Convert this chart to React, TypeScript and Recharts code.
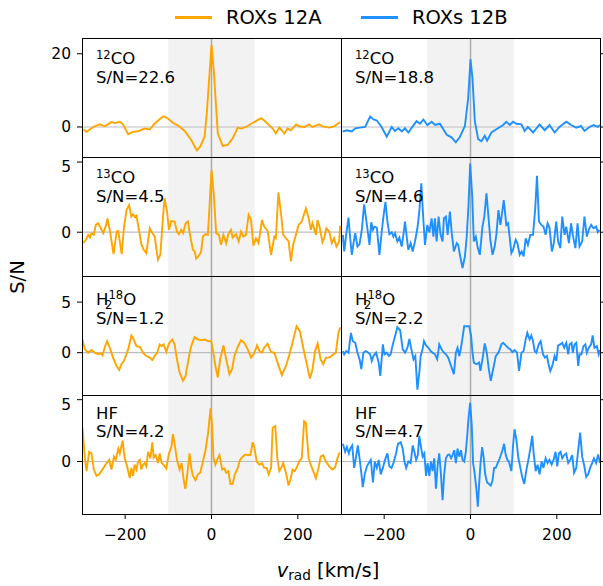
import React from 'react';
import { LineChart, Line, XAxis, YAxis, ReferenceArea, ReferenceLine } from 'recharts';

type Pt = [number, number];

// [velocity km/s, S/N]
const co12A: Pt[] = [[-297,-0.71],[-289.5,-1.33],[-274,0],[-259,0.71],[-247,0.18],[-232,1.33],[-224,1.07],[-212.5,1.42],[-205,0.71],[-193,-1.96],[-182,-1.33],[-170,-1.16],[-155,-0.44],[-143,-0.71],[-132,0.89],[-112,2.93],[-103,2.49],[-89,1.07],[-78,0.44],[-62,-1.07],[-47,-3.56],[-34,-6.4],[-26,-5.3],[-16,-2.67],[-11,3.56],[0,22.4],[5.4,15.1],[14.6,-1.78],[26,-5.15],[38,-4.9],[49,-3.1],[61,-0.18],[68.5,-0.44],[80,0],[92,0.89],[115,2.4],[122,1.78],[134,0.44],[142,-0.44],[149,-1.78],[157,-0.18],[169,-1.78],[176,-0.44],[184,-0.89],[196,0.71],[203,0.18],[215,0],[226,0.71],[234,0],[249.5,0.71],[257,0.18],[272.6,-0.18],[284,0.18],[298,1.33]];
const co12B: Pt[] = [[-296,-1.24],[-286,-0.89],[-275,-1.24],[-267,-0.36],[-256,-0.18],[-244,0],[-232.5,2.84],[-225,2.04],[-217,1.78],[-206,0],[-194,-2.67],[-182.5,0],[-175,-1.07],[-167,-0.36],[-159,-1.24],[-152,-0.36],[-144,-1.51],[-136,-0.18],[-125,1.6],[-117,0.89],[-109,2.04],[-100,0.53],[-90,1.42],[-82,0.53],[-71,0.89],[-63,-0.62],[-55,-2.13],[-44,-2.84],[-34,-4.18],[-25,-2.84],[-13,0.27],[-5.4,7.82],[0,18.5],[4.6,13.2],[10,1.6],[17.7,-3.3],[25.4,-3.9],[33,-2.4],[38.5,-3.73],[48.5,-1.51],[60,-0.62],[75.5,0.53],[83,1.42],[91,0.53],[98.6,1.42],[106,0.89],[118,0.71],[125.5,-1.07],[133,0],[145,-1.51],[160,0.71],[172,-0.89],[183,0.53],[195,-1.51],[206,0],[222,1.42],[233,0.53],[245,-0.18],[256,0.27],[264,-1.07],[275.7,0],[285,0.53],[295,0],[300,0.53]];
const co13A: Pt[] = [[-297.2,-0.78],[-291,-0.54],[-285.6,-0.19],[-281.8,-0.38],[-278,-0.07],[-272.6,-0.19],[-268,0.52],[-262.6,0.64],[-257,0.33],[-251,-0.07],[-244,0.52],[-241,0.99],[-235,0.05],[-227,-1.56],[-219.6,0.05],[-216,0.09],[-208,-1.56],[-203,0.28],[-197,1.58],[-191,1.94],[-185.6,1.11],[-181.7,1.28],[-178,1.11],[-174,1.18],[-168,0.17],[-162.5,-0.85],[-157,-1.25],[-151,-1.49],[-143,0.28],[-139,0.05],[-131.7,-0.31],[-124,-1.96],[-118.6,-1.61],[-112,1.23],[-108.6,2.41],[-103,1.47],[-98.6,0.17],[-93,0.8],[-85.5,0.76],[-80,0.05],[-75.5,-0.14],[-70,0.17],[-66,-0.07],[-60,0.64],[-54.7,0.76],[-49,-0.31],[-43,-1.25],[-39,-1.37],[-35.4,-1.89],[-27.7,-1.61],[-24,-1.37],[-20,-0.31],[-13.9,-0.14],[-8.5,-0.19],[-4.6,1.82],[0,4.42],[5.4,2.65],[10.8,-0.07],[17,-0.19],[22,-0.9],[27.7,-0.19],[34,-0.78],[39,-0.14],[45,0.17],[49,-0.38],[57,-0.14],[63,-0.66],[68.5,0.05],[74,-0.31],[80,-0.19],[86,1.23],[91.6,0.87],[97,-0.95],[103,-0.43],[109,-0.78],[117,0.87],[122,0.4],[130,0.09],[138,-1.61],[145.5,-0.31],[149,-0.43],[155,2.84],[161,1.35],[166,-0.19],[172.5,-0.43],[178.6,-0.66],[184,-2.08],[189,-0.9],[195.6,-0.19],[201.7,0.52],[209,0.76],[218.7,1.7],[225,0.99],[230,0.17],[234,0.64],[242,-0.19],[245.6,0.87],[251,0.28],[257,-0.71],[261,-0.43],[266,0.28],[272.6,0.05],[278.7,-0.78],[284,-0.43],[289.5,-1.02],[295.7,-0.66],[298,0.47]];
const co13B: Pt[] = [[-295.7,-0.19],[-292.6,-1.37],[-288,-0.19],[-282.6,1.04],[-278.7,-0.43],[-274.9,-1.61],[-271,-0.78],[-267,-0.07],[-261.8,-1.02],[-257,-0.85],[-251.8,0.17],[-246.4,1.99],[-240,0.52],[-234,-0.9],[-230,0.71],[-226,0.17],[-222.5,0.4],[-217,0.33],[-211,-1.61],[-205.6,0.05],[-201.7,1.11],[-197,2.17],[-192.5,0.76],[-188,-0.14],[-182.5,0],[-178.6,-0.31],[-174.8,-0.07],[-169.4,-0.66],[-164.8,-0.38],[-159.4,-1.02],[-155.5,-0.19],[-151.7,0.76],[-147.8,-0.31],[-144,-1.25],[-138.6,-0.78],[-134,-1.37],[-128.6,-0.66],[-123,0.28],[-118.6,1.47],[-114,3.48],[-109,0.76],[-105.5,-0.9],[-100,0.52],[-95.5,0],[-90,0.99],[-86,-0.31],[-82.4,0.99],[-78.5,-0.66],[-74,1.11],[-69.3,-0.19],[-64.7,-0.66],[-61.6,0.99],[-57,1.11],[-53,-0.19],[-47.7,1.47],[-43,-0.19],[-38.5,-1.37],[-32,-0.78],[-28.5,-0.9],[-24.6,-1.61],[-18.5,-2.55],[-13,-1.73],[-9,-0.43],[-4.6,1.94],[-0.8,4.89],[3.9,2.65],[7.7,-0.66],[12.3,-0.31],[17,-1.13],[21.6,-1.61],[27.7,0.4],[32,1.11],[37,2.77],[41.6,1.11],[46,-0.54],[51,-1.61],[56,-1.02],[60,-0.14],[64.7,1.58],[69.3,0.52],[72,1.11],[77,2.29],[83,0.52],[87,0.64],[91,-0.43],[94.7,-1.49],[98.6,-1.25],[104.7,-0.54],[108.6,-0.78],[114,-1.61],[118.6,-1.37],[123,-1.73],[127.8,-0.43],[133,-0.9],[138.6,-0.19],[144.8,-0.19],[150,1.7],[154,4.02],[158.6,0.76],[164,0.52],[169,0.4],[174,-0.19],[178.6,0.64],[183,0.33],[188.6,-1.37],[193,-0.78],[198.6,0.76],[203,-0.66],[208,-1.13],[212.5,1.11],[218,-0.19],[221.8,0.4],[228,-0.78],[233,0.64],[237,-0.19],[243,-1.13],[248,0.64],[252.6,-1.02],[258.7,-0.66],[264,1.11],[269.5,-0.31],[274,0.17],[279.5,0.52],[285,0.28],[291,0.4],[295,0],[298.8,0.17]];
const h2oA: Pt[] = [[-298.8,1.31],[-293.4,0.33],[-285.7,0],[-278,0.26],[-270,0],[-262.6,-0.16],[-257,-0.07],[-252.5,-0.26],[-247,0.59],[-241.8,1.14],[-235.6,0.49],[-228,-0.49],[-220,-1.31],[-214,-1.7],[-208.7,-1.14],[-203,-0.82],[-193,0.33],[-185.6,1.7],[-180,1.31],[-174,0.65],[-166,0.59],[-158.6,0],[-151,-0.33],[-143,-0.49],[-137,-0.72],[-131.7,-0.33],[-126,0],[-120,0.82],[-116,0.65],[-111,0.82],[-104.7,0.07],[-98.6,0.91],[-91,1.31],[-85.5,0.82],[-80,-0.65],[-74,-1.96],[-66,-2.78],[-60,-2.29],[-52,-0.33],[-47,0.65],[-39,1.54],[-31.6,1.31],[-24,1.24],[-16,1.31],[-8.5,1.14],[-0.8,1.14],[3,0.33],[9,-1.31],[14.6,-2.45],[20,-0.65],[27.7,0.72],[34,-0.65],[41.6,-2.12],[47.7,-1.63],[53,-0.33],[61,0.59],[68.5,1.24],[76,0.98],[84,0.33],[91.6,-0.49],[99,-0.07],[105.5,0.72],[111,0.16],[117,0],[122,0.49],[130,0.88],[138,0.07],[145.5,0],[153,-0.98],[163,-2.22],[172.5,-1.31],[181.7,0],[189.5,1.31],[197,2.61],[204.8,2.12],[212.5,0.49],[220,-0.98],[228,-2.55],[234,-1.63],[240,0.16],[246,0.91],[252.6,-0.65],[258.7,-1.14],[265,-0.49],[271,-0.49],[276,-0.39],[282,-0.16],[288,0],[294,1.96],[298,2.52]];
const h2oB: Pt[] = [[-295.7,0.16],[-292.6,-0.16],[-288,0.16],[-282.6,0],[-277,1.96],[-272.6,1.14],[-267,0.98],[-261.8,0],[-257,-0.65],[-253,-1.63],[-248,0],[-243,0.16],[-238.7,0.07],[-232.5,-0.16],[-228.7,-0.82],[-224.8,-0.33],[-218.7,0],[-213,-0.91],[-209,-2.29],[-203,0.82],[-199.4,-0.16],[-194,0],[-189,-0.33],[-185,-0.16],[-180,0.82],[-174.8,1.63],[-169.4,2.52],[-163,2.22],[-157,0.33],[-151.7,0],[-146,0.49],[-141.6,1.37],[-137.8,0.49],[-132,-0.65],[-127.8,-0.33],[-123,-3.66],[-118.6,-1.96],[-115.5,-0.33],[-111,0.33],[-107.8,1.14],[-103,0.72],[-97.6,0.49],[-92.4,0.16],[-87.8,0],[-82.4,-0.16],[-77,-0.65],[-72.4,0.82],[-67,0.33],[-61.6,0],[-57,-0.16],[-51.6,-0.49],[-47.7,-0.98],[-42.4,-1.63],[-38.5,-2.12],[-33.9,0],[-30,0.49],[-26,-0.33],[-22,0.49],[-18.5,1.47],[-14.6,2.61],[-3,2.61],[1.5,1.63],[4.6,0],[7.7,-0.98],[13.9,-1.14],[20,-0.98],[23,-1.8],[27.7,-0.65],[33,0.91],[37.7,0],[42.4,-1.63],[47,-2.78],[50.8,-1.96],[54,-1.31],[58.5,-0.33],[64.7,0],[71.6,0.82],[75.5,0.98],[81.6,0.72],[87,0.49],[92.4,0.33],[97,0.07],[102,0.26],[107.8,0],[112.5,-1.8],[118,0],[123,0.16],[127.8,1.31],[131.7,1.96],[137,1.31],[141,1.7],[144.8,1.14],[148.6,0.16],[152.5,0],[158,0.82],[162.5,1.14],[168,-0.16],[172.5,-0.49],[177,-0.33],[181.7,-1.31],[184.8,-1.8],[189.5,-1.31],[194.8,-0.33],[198.7,-0.82],[203,0.72],[208,0.82],[212.5,0.98],[217,0.49],[221.8,0.98],[226.4,-0.16],[229.5,0.82],[234,0.98],[237,0],[241,0.82],[245,0.98],[249.5,-1.31],[252.6,-0.16],[257,-0.16],[261.8,0.65],[266,0.82],[269.5,0],[274,0.49],[279.5,0.82],[283,1.7],[287,0.49],[292.6,0.65],[297,-0.16],[300,0.26]];
const hfA: Pt[] = [[-298.8,2.73],[-293.4,0.26],[-289.5,-0.78],[-283.4,0.78],[-278,0.65],[-272.6,-0.65],[-266.4,-1.17],[-260,-1.04],[-255,-0.78],[-249.5,-0.47],[-243,-0.13],[-237,0.13],[-231.8,-0.65],[-226,0.39],[-221.8,0.13],[-216,1.04],[-212.5,0.65],[-206,1.69],[-201,0.26],[-195.6,-0.39],[-189.4,-1.35],[-185.6,-0.52],[-181.7,-1.17],[-178,-0.26],[-174,-0.65],[-170,0],[-166,0.13],[-162.5,-0.65],[-158.6,-0.26],[-154.8,-0.13],[-151,-0.39],[-147,0.78],[-141.7,0.26],[-137,1.56],[-134,0.31],[-129.4,0.52],[-124,-0.13],[-120,0.65],[-115.5,-0.13],[-111,-0.26],[-104.7,-0.57],[-98.6,0.65],[-93,1.17],[-89.3,2.21],[-85.5,1.43],[-80,0.13],[-74,-0.65],[-69.3,-0.13],[-64.7,-1.43],[-60.8,-2.21],[-57,-1.3],[-50.8,0.65],[-47,-0.52],[-43,-1.17],[-37,-1.51],[-31.6,-1.04],[-26,-0.91],[-20,0],[-13.9,0.91],[-7.7,2.34],[-2.3,4.3],[1.5,2.86],[4.6,0.26],[9,-0.26],[14.6,0.26],[18.5,0.52],[24.6,-0.65],[30,-0.57],[34,-0.91],[39,-0.78],[44,-1.82],[49,-1.82],[54,-1.04],[61,-0.52],[66,0.13],[72,0.39],[78.5,0.57],[84,0.52],[90,0.52],[95.5,1.56],[99,1.17],[104.7,0],[111,-0.26],[117,-0.13],[122,-0.52],[127.8,-0.52],[132.4,-1.04],[138,-0.52],[141.7,2.73],[147.8,2.86],[152.5,0.26],[157,-0.78],[161.7,-0.52],[166,-0.13],[172.5,-0.91],[178.6,-1.95],[183,-1.43],[188,-0.65],[193,-0.78],[197,-0.52],[203,0],[209,0.26],[214.6,3.26],[218.7,3.13],[225,0.26],[230,-0.26],[235.6,-0.78],[241.8,-1.35],[248,-0.52],[253,0.39],[258.7,0.52],[265,0],[272.6,-0.39],[280,-0.65],[286,-0.52],[291.8,0.26],[297,0.73]];
const hfB: Pt[] = [[-295.7,1.43],[-290.3,0.78],[-286.4,1.17],[-281.8,0.65],[-278.7,1.04],[-274,1.3],[-269.5,-0.52],[-265,0.39],[-261,1.3],[-257,0.26],[-253,-0.91],[-249.5,-2.08],[-245,-1.04],[-240,-0.39],[-235.6,-0.13],[-231,0.13],[-226,-1.69],[-221.8,0],[-217,-0.52],[-212.5,0.13],[-208,-1.04],[-203,-0.52],[-198,0.13],[-192.5,0.65],[-188,-0.39],[-183,-0.52],[-178.6,-0.13],[-172.5,0.65],[-168,1.43],[-161.7,1.56],[-157,1.04],[-153,0],[-149,-0.52],[-144,0],[-138.6,-0.13],[-134,1.3],[-130,0.78],[-126,0.13],[-122,0.52],[-118.6,2.08],[-114.6,1.17],[-110.9,0.39],[-107,0.65],[-103,-1.17],[-99.3,-0.13],[-95.5,-1.17],[-91.6,0],[-87.8,-0.78],[-84,0.26],[-80,-2.21],[-76,-0.26],[-72.4,0.65],[-68.5,-1.04],[-64.7,-3.13],[-61,-1.04],[-57,0.26],[-53,0.52],[-49,0.57],[-45,0.26],[-41.6,0.52],[-37.7,0.91],[-33.9,-0.13],[-30,1.04],[-26,0.39],[-22,0.91],[-18.5,0.13],[-14.6,0],[-10.8,0.78],[-7,2.34],[-4.6,3.52],[-0.8,4.74],[3,2.86],[6,-0.13],[9,-0.78],[13.9,-2.34],[17,-3.65],[20,-1.82],[23,-0.26],[27,1.17],[30.8,0.26],[34,-1.04],[38.5,-1.69],[43,-1.82],[47,-1.95],[50.8,-1.56],[54.7,-0.52],[58.5,-0.52],[63,-0.13],[67.8,0.26],[74,0.91],[77.8,1.43],[81.6,0.52],[85.5,0.13],[89,0],[94.7,-0.78],[98.6,1.3],[102,2.6],[106,1.82],[111,0.26],[115.5,-0.52],[120,-1.3],[124.6,-1.82],[129,-0.78],[134,0.13],[138.6,1.04],[143,2.08],[146,0.78],[151,-0.78],[155.5,-0.26],[160,-1.04],[164.8,0],[169,-0.52],[174,0.26],[178.6,-0.13],[183,0.13],[188,-0.26],[192.5,0.13],[197,0.78],[201,-0.39],[204.8,0.65],[208.7,0.78],[212.5,0.26],[217,0.52],[221.8,0.65],[226.4,-0.13],[231,0.13],[235.6,0.52],[240,-0.91],[245,-0.52],[249.5,0.91],[254,2.34],[258.7,0.39],[263,-0.26],[268,-1.25],[272.6,-1.04],[277,-0.52],[281.8,-0.13],[286,0.26],[291,-0.13],[295.7,0.57],[300,-0.13]];

const sources = ['ROXs 12A', 'ROXs 12B'];
const sourceColors = ['#FFA500', '#1E90FF'];
const snValuesA = ['22.6', '4.5', '1.2', '4.2'];
const snValuesB = ['18.8', '4.6', '2.2', '4.7'];
const velocityTicks = [-200, 0, 200];
const rowTicks = [[0, 20], [0, 5], [0, 5], [0, 5]];
const rowDomains: [number, number][] = [[-8.2, 24.3], [-3.12, 5.36], [-4.18, 7.58], [-4.25, 5.38]];
const seriesA = [co12A, co13A, h2oA, hfA];
const seriesB = [co12B, co13B, h2oB, hfB];

const FONT = "'DejaVu Sans', 'Liberation Sans', sans-serif";
const COL_X = [82, 341];
const PW = 259;
const TOP = 38;
const RH = 119;
const YW = 50;
const XH = 40;

const toRows = (pts: Pt[]) => pts.map(([v, sn]) => ({ v, sn }));

function Species({ row }: { row: number }) {
  const sup = (s: string) => (
    <span style={{ fontSize: '0.7em', position: 'relative', top: '-0.5em' }}>{s}</span>
  );
  if (row === 0) return <span>{sup('12')}CO</span>;
  if (row === 1) return <span>{sup('13')}CO</span>;
  if (row === 2)
    return (
      <span style={{ position: 'relative' }}>
        H{sup('18')}
        <span style={{ position: 'absolute', fontSize: '0.7em', left: '0.78em', top: '0.55em' }}>2</span>O
      </span>
    );
  return <span>HF</span>;
}

const textOffsets = [12.3, 12.3, 14.8, 9.8];

function Panel({ col, row }: { col: number; row: number }) {
  const pts = col === 0 ? seriesA[row] : seriesB[row];
  const data = toRows(pts);
  const bottom = row === 3;
  const left = col === 0 ? COL_X[0] - YW : COL_X[1];
  const width = col === 0 ? PW + YW : PW + 10;
  const height = RH + (bottom ? XH : 0);
  const top = TOP + row * RH;
  const tickStyle = { fill: '#000', fontSize: 15.5, fontFamily: FONT };
  return (
    <div style={{ position: 'absolute', left, top }}>
      <LineChart width={width} height={height} data={data} margin={{ top: 0, right: 0, bottom: 0, left: 0 }}>
        <XAxis
          dataKey="v"
          type="number"
          domain={[-300, 300]}
          allowDataOverflow
          ticks={velocityTicks}
          hide={!bottom}
          height={XH}
          axisLine={false}
          tickSize={5}
          tickMargin={10}
          tickLine={{ stroke: '#000', strokeWidth: 1 }}
          tick={tickStyle}
          tickFormatter={(t: number) => String(t).replace('-', '\u2212')}
        />
        <YAxis
          type="number"
          domain={rowDomains[row]}
          allowDataOverflow
          ticks={rowTicks[row]}
          orientation={col === 0 ? 'left' : 'right'}
          width={col === 0 ? YW : 10}
          axisLine={false}
          tickSize={5}
          tickMargin={6}
          tickLine={{ stroke: '#000', strokeWidth: 1 }}
          tick={tickStyle}
          tickFormatter={col === 0 ? (t: number) => String(t) : () => ''}
        />
        <ReferenceArea x1={-100} x2={100} fill="#f2f2f2" fillOpacity={1} stroke="none" />
        <ReferenceLine y={0} stroke="#bdbdbd" strokeWidth={1.2} />
        <ReferenceLine x={0} stroke="#ababab" strokeWidth={1.5} />
        <Line
          dataKey="sn"
          type="linear"
          stroke={sourceColors[col]}
          strokeWidth={1.9}
          dot={false}
          isAnimationActive={false}
        />
      </LineChart>
      <div
        style={{
          position: 'absolute',
          left: COL_X[col] - left,
          top: 0,
          width: PW + 1,
          height: RH + 1,
          border: '1px solid #000',
          boxSizing: 'border-box',
          pointerEvents: 'none',
        }}
      />
      <div
        style={{
          position: 'absolute',
          left: COL_X[col] - left + 14,
          top: textOffsets[row],
          fontFamily: FONT,
          fontSize: 16.5,
          lineHeight: '18px',
          color: '#000',
          whiteSpace: 'nowrap',
        }}
      >
        <div><Species row={row} /></div>
        <div>S/N={col === 0 ? snValuesA[row] : snValuesB[row]}</div>
      </div>
    </div>
  );
}

export default function App() {
  const rows = [0, 1, 2, 3];
  return (
    <div style={{ position: 'absolute', left: 0, top: 0, width: 603, height: 586, background: '#fff', fontFamily: FONT }}>
      {rows.map((r) => (
        <React.Fragment key={r}>
          <Panel col={0} row={r} />
          <Panel col={1} row={r} />
        </React.Fragment>
      ))}
      {/* legend */}
      {sources.map((s, i) => {
        const lx = i === 0 ? 175 : 361;
        return (
          <React.Fragment key={s}>
            <div style={{ position: 'absolute', left: lx, top: 15.5, width: 37, height: 3, background: sourceColors[i] }} />
            <div style={{ position: 'absolute', left: lx + 51, top: 7, fontSize: 19.5, lineHeight: '22px', color: '#000', whiteSpace: 'nowrap' }}>{s}</div>
          </React.Fragment>
        );
      })}
      {/* y label */}
      <div
        style={{
          position: 'absolute',
          left: 18,
          top: 277,
          transform: 'translate(-50%, -50%) rotate(-90deg)',
          fontSize: 19.5,
          lineHeight: '22px',
          whiteSpace: 'nowrap',
          color: '#000',
        }}
      >
        S/N
      </div>
      {/* x label */}
      <div
        style={{
          position: 'absolute',
          left: 328,
          top: 560,
          transform: 'translateX(-50%)',
          fontSize: 19.5,
          lineHeight: '22px',
          whiteSpace: 'nowrap',
          color: '#000',
        }}
      >
        <i>v</i>
        <span style={{ fontSize: '0.7em', position: 'relative', top: '0.25em' }}>rad</span> [km/s]
      </div>
    </div>
  );
}
